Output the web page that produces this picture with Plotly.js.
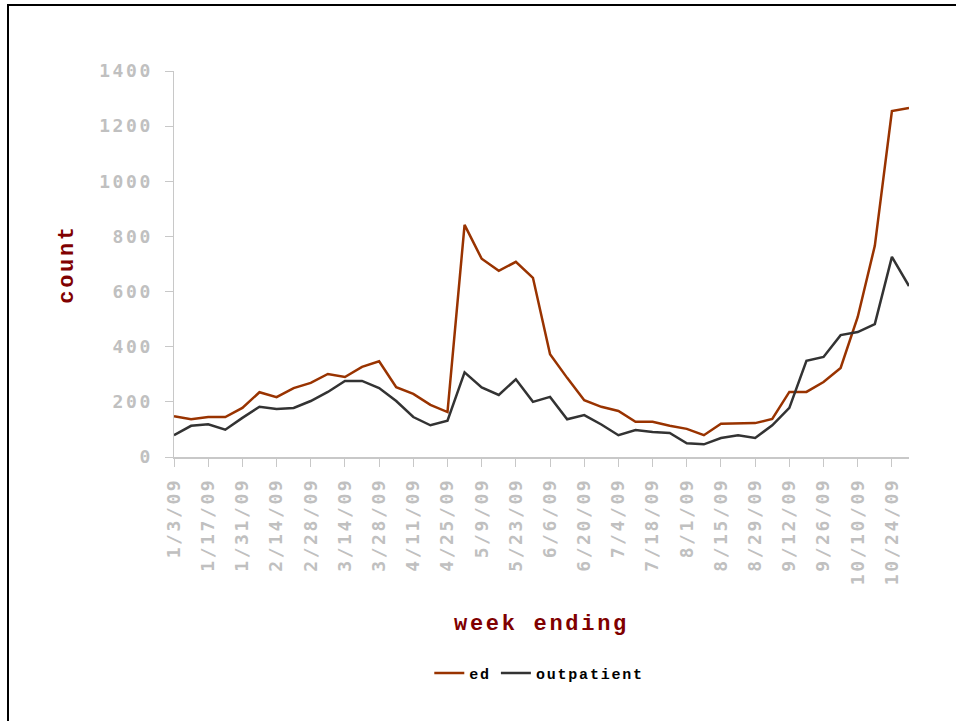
<!DOCTYPE html>
<html>
<head>
<meta charset="utf-8">
<script src="https://cdn.plot.ly/plotly-3.0.1.min.js"></script>
<style>
  html, body { margin: 0; padding: 0; background: #ffffff; overflow: hidden; }
  #frame { position: absolute; left: 7px; top: 4px; width: 1100px; height: 900px;
           border-left: 2px solid #000; border-top: 2px solid #000; pointer-events: none; z-index: 5; }
  #chart { position: absolute; left: 0; top: 0; width: 956px; height: 721px; }
  .xtick text, .ytick text { letter-spacing: 2.6px; }
  .g-xtitle text, .g-ytitle text { letter-spacing: 2.7px; }
  .legendtext { letter-spacing: 1.8px; }
</style>
</head>
<body>
<div id="chart"></div>
<div id="frame"></div>
<script>
const weeks = ["1/3/09","1/10/09","1/17/09","1/24/09","1/31/09","2/7/09","2/14/09","2/21/09","2/28/09",
  "3/7/09","3/14/09","3/21/09","3/28/09","4/4/09","4/11/09","4/18/09","4/25/09","5/2/09","5/9/09",
  "5/16/09","5/23/09","5/30/09","6/6/09","6/13/09","6/20/09","6/27/09","7/4/09","7/11/09","7/18/09",
  "7/25/09","8/1/09","8/8/09","8/15/09","8/22/09","8/29/09","9/5/09","9/12/09","9/19/09","9/26/09",
  "10/3/09","10/10/09","10/17/09","10/24/09","10/31/09"];

const ed = [148,137,145,145,178,235,217,250,269,301,290,327,347,253,229,189,163,842,719,
  675,708,650,373,287,206,182,167,128,128,113,102,79,121,121,123,138,236,236,272,
  323,508,766,1255,1266];

const outpatient = [79,113,119,99,142,182,174,178,203,236,276,276,250,203,145,115,132,307,252,
  225,282,200,218,137,152,118,79,98,91,87,50,46,69,79,69,115,178,349,363,
  442,453,482,726,620];

const tickLabels = weeks.filter((w, i) => i % 2 === 0);

const traces = [
  { x: weeks, y: ed, name: "ed", type: "scatter", mode: "lines",
    line: { color: "#993300", width: 2.5 } },
  { x: weeks, y: outpatient, name: "outpatient", type: "scatter", mode: "lines",
    line: { color: "#333333", width: 2.5 } }
];

const tickFont = { family: "DejaVu Sans Mono", size: 18, color: "#c0c0c0", weight: "bold" };
const titleFont = { family: "Liberation Mono", size: 22, color: "#800000", weight: "bold" };

const layout = {
  width: 956, height: 721,
  margin: { l: 174, r: 47, t: 71, b: 264 },
  paper_bgcolor: "#ffffff", plot_bgcolor: "#ffffff",
  showlegend: true,
  legend: { orientation: "h", x: 0.497, xanchor: "center", y: -0.56, yanchor: "middle",
            font: { family: "Liberation Mono", size: 15, color: "#000000", weight: "bold" },
            itemwidth: 30, tracegroupgap: 0 },
  xaxis: {
    type: "category", range: [0, 43], automargin: true,
    tickmode: "array", tickvals: tickLabels, ticktext: tickLabels,
    tickangle: -90, tickfont: tickFont,
    ticks: "outside", ticklen: 8, tickcolor: "#c8c8c8", tickwidth: 1,
    ticklabelstandoff: 4,
    showline: true, linecolor: "#c8c8c8", linewidth: 1.5,
    showgrid: false, zeroline: false,
    title: { text: "week ending", font: titleFont, standoff: 30 }
  },
  yaxis: {
    range: [0, 1400], automargin: true,
    tickmode: "linear", tick0: 0, dtick: 200, tickfont: tickFont,
    ticks: "outside", ticklen: 8, tickcolor: "#c8c8c8", tickwidth: 1,
    ticklabelstandoff: 8,
    showline: true, linecolor: "#c8c8c8", linewidth: 1.5,
    showgrid: false, zeroline: false,
    title: { text: "count", font: titleFont, standoff: 19 }
  }
};

Plotly.newPlot("chart", traces, layout, { displayModeBar: false, staticPlot: true });
</script>
</body>
</html>
